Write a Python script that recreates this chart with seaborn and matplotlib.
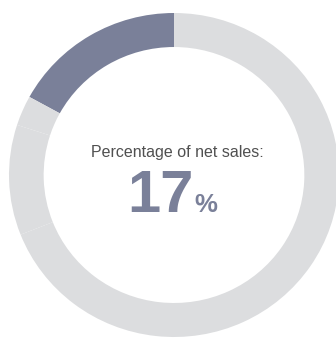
import matplotlib
matplotlib.use("Agg")
import matplotlib.pyplot as plt
import seaborn as sns

# Share of net sales, in percent (highlighted share first, remainder split)
segments = ["Segment", "Other A", "Other B", "Other C"]
shares = [17, 3, 11, 69]
highlight_value = 17
title_text = "Percentage of net sales:"

highlight_color = "#7a8099"
rest_color = "#dcdddf"

sns.set_theme(style="white")
plt.rcParams["font.family"] = ["Liberation Sans", "DejaVu Sans"]

colors = [highlight_color] + [rest_color] * (len(shares) - 1)

fig = plt.figure(figsize=(3.36, 3.38), dpi=100)
ax = fig.add_axes([0, 0, 1, 1])
ax.pie(shares, colors=colors, startangle=90, counterclock=True,
       radius=1.0, wedgeprops=dict(width=0.21, linewidth=0))
# ring is drawn slightly wider than tall
ax.set_xlim(-174 / 165, 162 / 165)
ax.set_ylim(-163 / 162, 175 / 162)
ax.set_aspect("auto")
ax.axis("off")

ax.text(0.02, 0.14, title_text, ha="center", va="center",
        fontsize=11.5, color="#505050")
ax.text(0.12, -0.228, f"{highlight_value}", ha="right", va="baseline",
        fontsize=43, fontweight="bold", color=highlight_color)
ax.text(0.122, -0.228, "%", ha="left", va="baseline",
        fontsize=18.5, fontweight="bold", color=highlight_color)

fig.savefig("out.png", dpi=100, facecolor="white")
